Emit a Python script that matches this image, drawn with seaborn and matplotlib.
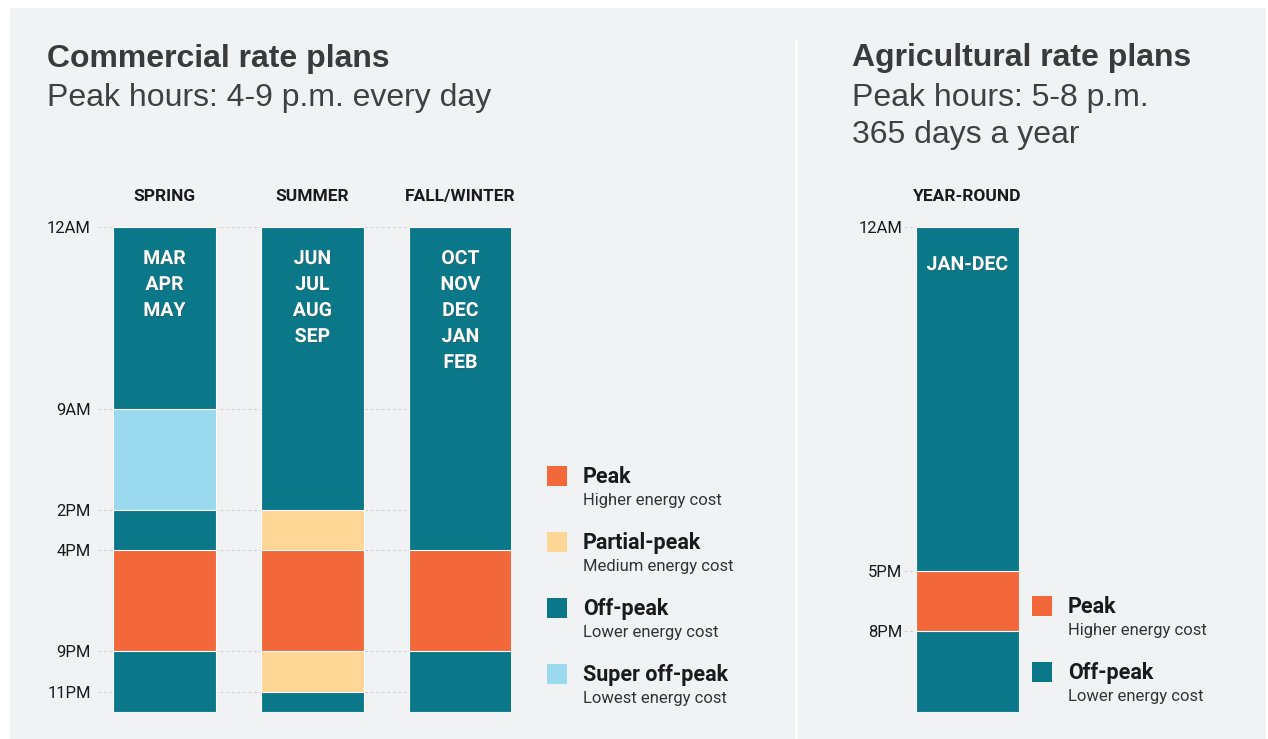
import numpy as np
import pandas as pd
import matplotlib
matplotlib.use("Agg")
import matplotlib.pyplot as plt
import matplotlib.patheffects as pe
from matplotlib.patches import Rectangle
from matplotlib.lines import Line2D
import seaborn as sns

# ---- data ----
seasons = ["SPRING", "SUMMER", "FALL/WINTER"]
season_months = [["MAR", "APR", "MAY"],
                 ["JUN", "JUL", "AUG", "SEP"],
                 ["OCT", "NOV", "DEC", "JAN", "FEB"]]

# end hour of each block, counted from midnight, top to bottom
spring_ends = [9, 14, 16, 21, 24]
spring_rates = ["Off-peak", "Super off-peak", "Off-peak", "Peak", "Off-peak"]
summer_ends = [14, 16, 21, 23, 24]
summer_rates = ["Off-peak", "Partial-peak", "Peak", "Partial-peak", "Off-peak"]
fall_ends = [16, 21, 24]
fall_rates = ["Off-peak", "Peak", "Off-peak"]

ag_season = ["YEAR-ROUND"]
ag_months = [["JAN-DEC"]]
ag_ends = [17, 20, 24]
ag_rates = ["Off-peak", "Peak", "Off-peak"]

com_ticks = [0, 9, 14, 16, 21, 23]
com_tick_labels = ["12AM", "9AM", "2PM", "4PM", "9PM", "11PM"]
ag_ticks = [0, 17, 20]
ag_tick_labels = ["12AM", "5PM", "8PM"]

rate_colors = {"Peak": "#f2683b", "Partial-peak": "#fed797",
               "Off-peak": "#0a7889", "Super off-peak": "#9bdaee"}
com_legend = [("Peak", "Higher energy cost"),
              ("Partial-peak", "Medium energy cost"),
              ("Off-peak", "Lower energy cost"),
              ("Super off-peak", "Lowest energy cost")]
ag_legend = [("Peak", "Higher energy cost"),
             ("Off-peak", "Lower energy cost")]

BG = "#f1f2f4"
W, H = 1268, 739
PX_PER_UNIT = 148.0
BAR_W = 103 / PX_PER_UNIT


def blocks(names, ends_list, rates_list):
    rows = []
    for name, ends, rates in zip(names, ends_list, rates_list):
        for end, rate in zip(ends, rates):
            rows.append({"season": name, "end": end, "rate": rate})
    df = pd.DataFrame(rows)
    # longest first so shorter blocks are drawn on top of them
    df = df.sort_values("end", ascending=False, kind="stable").reset_index(drop=True)
    df["seg"] = ["s%d" % i for i in range(len(df))]
    return df


def fx(x):
    return x / W


def fy(y):
    return 1 - y / H


def pt(px):
    return px * 0.72


fig = plt.figure(figsize=(W / 100, H / 100), dpi=100, facecolor="white")
fig.add_artist(Rectangle((fx(10), 0), fx(1266) - fx(10), fy(8), transform=fig.transFigure,
                         facecolor=BG, edgecolor="none", zorder=-10))
fig.add_artist(Line2D([fx(796), fx(796)], [0, fy(40)], transform=fig.transFigure,
                      color="white", lw=2, zorder=-5))


def draw_panel(rect, names, ends_list, rates_list, months, ticks, tick_labels,
               label_pad, month_top):
    ax = fig.add_axes(rect)
    df = blocks(names, ends_list, rates_list)
    pal = dict(zip(df["seg"], df["rate"].map(rate_colors)))
    sns.barplot(data=df, x="season", y="end", hue="seg", hue_order=list(df["seg"]),
                palette=pal, order=names, dodge=False, width=BAR_W, saturation=1,
                errorbar=None, legend=False, edgecolor="white", linewidth=0.8,
                zorder=3, ax=ax)
    for t in ticks:
        ax.axhline(t, color="#cfd1d4", lw=0.8, ls=(0, (2.5, 2.5)), zorder=1)
    ax.set_ylim(24, 0)
    ax.set_facecolor("none")
    for s in ax.spines.values():
        s.set_visible(False)
    ax.set_xticks([])
    ax.set_xlabel("")
    ax.set_ylabel("")
    ax.set_yticks(ticks)
    ax.set_yticklabels(tick_labels, family="Roboto", fontsize=12, color="#1a1a1a")
    ax.tick_params(axis="y", length=0, pad=label_pad)
    for i, name in enumerate(names):
        ax.annotate(name, xy=(i, 0), xytext=(0, pt(26)), textcoords="offset points",
                    ha="center", va="baseline", family="Roboto", fontweight="bold",
                    fontsize=12.5, color="#1a1a1a", annotation_clip=False)
        for j, m in enumerate(months[i]):
            ax.annotate(m, xy=(i, 0), xytext=(0, -pt(month_top + 26 * j)),
                        textcoords="offset points", ha="center", va="baseline",
                        family="Roboto", fontweight="bold", fontsize=14,
                        color="white", zorder=5,
                        path_effects=[pe.withSimplePatchShadow(offset=(0.8, -0.8),
                                                               alpha=0.35)])
    return ax


# commercial panel: axis from x=98 to x=511, y from 227 to 712
x0, x1 = 98, 511
ax = draw_panel([fx(x0), fy(712), fx(x1) - fx(x0), fy(227) - fy(712)],
                seasons, [spring_ends, summer_ends, fall_ends],
                [spring_rates, summer_rates, fall_rates],
                season_months, com_ticks, com_tick_labels, pt(7), 37)
ax.set_xlim((x0 - 164.5) / PX_PER_UNIT, (x1 - 164.5) / PX_PER_UNIT)

# agricultural panel
a0, a1 = 904, 1019
ax = draw_panel([fx(a0), fy(712), fx(a1) - fx(a0), fy(227) - fy(712)],
                ag_season, [ag_ends], [ag_rates], ag_months,
                ag_ticks, ag_tick_labels, pt(2), 43)
ax.set_xlim((a0 - 967.5) / PX_PER_UNIT, (a1 - 967.5) / PX_PER_UNIT)

# titles
TITLE_FONT = "Liberation Sans"
fig.text(fx(47), fy(67), "Commercial rate plans", family=TITLE_FONT,
         fontweight="bold", fontsize=23, color="#3a3a3a", va="baseline")
fig.text(fx(47), fy(106), "Peak hours: 4-9 p.m. every day", family=TITLE_FONT,
         fontsize=23, color="#404040", va="baseline")
fig.text(fx(852), fy(66), "Agricultural rate plans", family=TITLE_FONT,
         fontweight="bold", fontsize=23, color="#3a3a3a", va="baseline")
fig.text(fx(852), fy(106), "Peak hours: 5-8 p.m.", family=TITLE_FONT,
         fontsize=23, color="#404040", va="baseline")
fig.text(fx(852), fy(143), "365 days a year", family=TITLE_FONT,
         fontsize=23, color="#404040", va="baseline")


def draw_legend(entries, sq_x, label_x, first_base, step):
    for k, (name, desc) in enumerate(entries):
        base = first_base + step * k
        fig.add_artist(Rectangle((fx(sq_x), fy(base + 3)), fx(20), 20 / H,
                                 transform=fig.transFigure,
                                 facecolor=rate_colors[name], edgecolor="none"))
        fig.text(fx(label_x), fy(base), name, family="Roboto", fontweight="bold",
                 fontsize=15.5, color="#1a1a1a", va="baseline")
        fig.text(fx(label_x), fy(base + 22), desc, family="Roboto",
                 fontsize=12, color="#333333", va="baseline")


draw_legend(com_legend, 547, 583, 483, 66)
draw_legend(ag_legend, 1032, 1068, 613, 66)

fig.savefig("out.png", dpi=100, facecolor=fig.get_facecolor())
